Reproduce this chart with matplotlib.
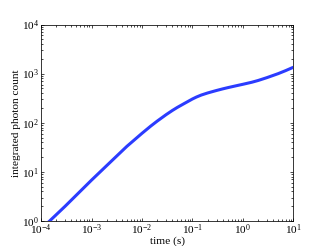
import numpy as np
from matplotlib import pyplot as plt

# values
time_s = [1.4e-4, 3e-4, 1e-3, 3e-3, 5e-3, 1e-2, 1.5e-2, 2e-2, 3e-2, 4e-2,
          5e-2, 7e-2, 0.1, 0.12, 0.15, 0.2, 0.25, 0.3, 0.4, 0.5,
          0.7, 1.0, 1.5, 2.0, 3.0, 5.0, 7.0, 10.0]
photons = [0.95, 2.0, 6.8, 20, 33, 61, 86, 108, 146, 178,
           205, 249, 305, 334, 367, 404, 431, 454, 490, 518,
           560, 607, 668, 725, 830, 1000, 1150, 1350]

plt.rcParams.update({
    "font.family": "serif",
    "font.serif": ["Liberation Serif", "DejaVu Serif"],
    "mathtext.fontset": "stix",
    "font.size": 8.2,
    "axes.linewidth": 0.55,
    "xtick.direction": "in",
    "ytick.direction": "in",
    "xtick.top": True,
    "ytick.right": True,
    "xtick.major.size": 2.2,
    "ytick.major.size": 2.2,
    "xtick.minor.size": 1.1,
    "ytick.minor.size": 1.1,
    "xtick.major.width": 0.5,
    "ytick.major.width": 0.5,
    "xtick.minor.width": 0.5,
    "ytick.minor.width": 0.5,
    "xtick.major.pad": 1.2,
    "ytick.major.pad": 1.5,
    "axes.labelpad": 0.5,
})

fig = plt.figure(figsize=(3.26, 2.46), dpi=100)
ax = fig.add_axes([0.126, 0.1016, 0.774, 0.7988])

ax.loglog(time_s, photons, color="#2b3cff", lw=2.2, solid_capstyle="butt")
ax.set_xlim(1e-4, 1e1)
ax.set_ylim(1e0, 1e4)
ax.set_xlabel("time (s)", labelpad=-0.5)
ax.set_ylabel("integrated photon count")

fig.savefig("out.png", dpi=100)
